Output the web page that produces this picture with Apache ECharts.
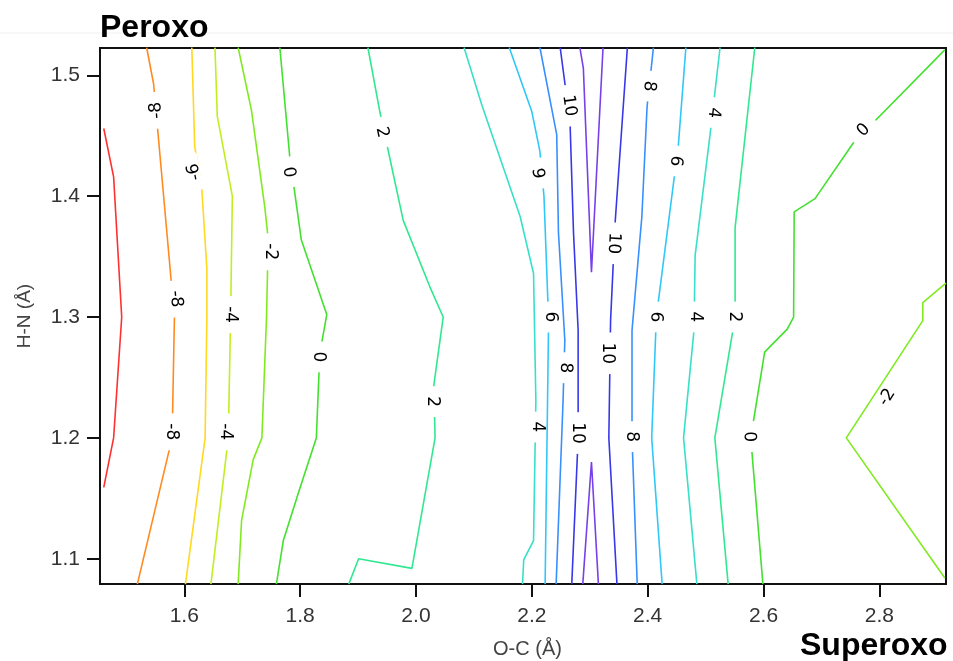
<!DOCTYPE html>
<html><head><meta charset="utf-8">
<script src="https://cdn.jsdelivr.net/npm/echarts@6/dist/echarts.min.js"></script>
<style>html,body{margin:0;padding:0;background:#fff}#c{width:953px;height:661px}</style>
</head><body><div id="c"></div>
<script>
// ---- axis ticks ----
const xTicks = [1.6, 1.8, 2.0, 2.2, 2.4, 2.6, 2.8];
const yTicks = [1.1, 1.2, 1.3, 1.4, 1.5];
const xRange = [1.4545, 2.9151];
const yRange = [1.0791, 1.5226];

// ---- contour polylines [O-C, H-N] ----
const cN10 = [[1.461,1.456],[1.478,1.416],[1.492,1.300],[1.478,1.200],[1.461,1.159]];
const cN8  = [[1.535,1.523],[1.547,1.493],[1.583,1.300],[1.579,1.200],[1.519,1.079]];
const cN6  = [[1.613,1.523],[1.618,1.441],[1.630,1.408],[1.639,1.340],[1.639,1.300],[1.636,1.200],[1.602,1.079]];
const cN4  = [[1.653,1.523],[1.657,1.466],[1.683,1.400],[1.680,1.300],[1.676,1.200],[1.646,1.079]];
const cN2a = [[1.693,1.523],[1.716,1.471],[1.739,1.391],[1.745,1.364],[1.742,1.300],[1.734,1.200],[1.719,1.182],[1.699,1.132],[1.693,1.079]];
const c0a  = [[1.765,1.523],[1.782,1.433],[1.802,1.364],[1.846,1.302],[1.834,1.270],[1.828,1.200],[1.800,1.159],[1.771,1.115],[1.759,1.079]];
const c2a  = [[1.917,1.523],[1.938,1.469],[1.978,1.380],[2.024,1.325],[2.047,1.300],[2.031,1.244],[2.033,1.200],[1.993,1.092],[1.901,1.100],[1.884,1.079]];
const c4a  = [[2.083,1.523],[2.114,1.475],[2.180,1.383],[2.203,1.336],[2.207,1.231],[2.203,1.115],[2.186,1.099],[2.184,1.079]];
const c6a  = [[2.161,1.523],[2.200,1.470],[2.214,1.437],[2.221,1.400],[2.229,1.297],[2.223,1.079]];
const c8a  = [[2.214,1.523],[2.243,1.451],[2.246,1.370],[2.257,1.281],[2.254,1.231],[2.242,1.079]];
const c10a = [[2.249,1.523],[2.266,1.461],[2.272,1.370],[2.280,1.289],[2.280,1.200],[2.269,1.079]];
const c12a = [[2.283,1.523],[2.289,1.506],[2.303,1.337],[2.323,1.523]];
const c12b = [[2.288,1.079],[2.303,1.180],[2.315,1.079]];
const c10b = [[2.365,1.523],[2.344,1.379],[2.336,1.297],[2.333,1.200],[2.347,1.079]];
const c8b  = [[2.410,1.523],[2.399,1.474],[2.390,1.383],[2.373,1.289],[2.373,1.200],[2.382,1.079]];
const c6b  = [[2.466,1.523],[2.453,1.442],[2.415,1.300],[2.407,1.200],[2.425,1.079]];
const c4b  = [[2.525,1.523],[2.508,1.452],[2.482,1.351],[2.480,1.289],[2.462,1.200],[2.485,1.079]];
const c2b  = [[2.585,1.523],[2.551,1.374],[2.551,1.300],[2.516,1.200],[2.539,1.079]];
const c0b  = [[2.913,1.521],[2.755,1.444],[2.689,1.398],[2.653,1.387],[2.652,1.300],[2.641,1.290],[2.602,1.271],[2.578,1.200],[2.599,1.079]];
const cN2b = [[2.915,1.328],[2.875,1.312],[2.875,1.297],[2.743,1.200],[2.913,1.084]];

const contourLines = [cN10, cN8, cN6, cN4, cN2a, c0a, c2a, c4a, c6a, c8a, c10a, c12a, c12b, c10b, c8b, c6b, c4b, c2b, c0b, cN2b];
const contourLevels = [-10, -8, -6, -4, -2, 0, 2, 4, 6, 8, 10, 12, 12, 10, 8, 6, 4, 2, 0, -2];

// ---- contour labels [O-C, H-N, text] ----
const labelPts = [
  [1.550,1.471,'-8'],[1.616,1.420,'-6'],[1.782,1.420,'0'],[1.751,1.354,'-2'],
  [1.587,1.315,'-8'],[1.682,1.302,'-4'],[1.834,1.267,'0'],[1.579,1.205,'-8'],
  [1.673,1.205,'-4'],[1.943,1.453,'2'],[2.030,1.230,'2'],[2.266,1.475,'10'],
  [2.214,1.419,'6'],[2.404,1.491,'8'],[2.516,1.469,'4'],[2.450,1.429,'6'],
  [2.343,1.361,'10'],[2.234,1.300,'6'],[2.416,1.300,'6'],[2.485,1.300,'4'],
  [2.551,1.300,'2'],[2.332,1.270,'10'],[2.260,1.258,'8'],[2.211,1.209,'4'],
  [2.280,1.204,'10'],[2.373,1.201,'8'],[2.577,1.201,'0'],[2.772,1.455,'0'],
  [2.812,1.234,'-2']
];
const labelRot = [95,101,-82,-90,-85,-90,-90,-90,-90,-78,-90,-82,95,-96,-97,-97,-93,-90,-93,-90,-90,-90,-92,-90,-90,-90,-88,45,57];

const levelColor = {
  '-10':'#ff3030','-8':'#ff8a20','-6':'#ffd820','-4':'#c0ee20','-2':'#80ea20',
  '0':'#44e030','2':'#30e890','4':'#38e0c8','6':'#30c8f8','8':'#3890ff','10':'#3838e8','12':'#7840e8'
};

const series = contourLines.map((pts, i) => ({
  type: 'line', data: pts, symbol: 'none', showSymbol: false, silent: true, clip: true,
  lineStyle: { color: levelColor[String(contourLevels[i])], width: 1.6 }, z: 2
}));

const LFS = 17;
series.push({
  type: 'custom', coordinateSystem: 'cartesian2d', silent: true, z: 5,
  encode: { x: 0, y: 1 },
  data: labelPts.map((p, i) => [p[0], p[1], i]),
  renderItem: function (params, api) {
    const i = api.value(2);
    const pt = api.coord([api.value(0), api.value(1)]);
    const txt = labelPts[i][2];
    let tw = 0;
    for (const ch of txt) tw += (ch === '-' ? 0.361 : 0.636) * LFS;
    const w = tw + 20, h = 13;
    return {
      type: 'group', x: pt[0], y: pt[1], rotation: labelRot[i] * Math.PI / 180,
      children: [
        { type: 'rect', shape: { x: -w / 2, y: -h / 2, width: w, height: h }, style: { fill: '#fff' } },
        { type: 'text', style: { text: txt, x: 0, y: 1, align: 'center', verticalAlign: 'middle',
          fontSize: LFS, fontFamily: 'DejaVu Sans', fill: '#000' } }
      ]
    };
  }
});

const chart = echarts.init(document.getElementById('c'), null, { renderer: 'canvas' });
chart.setOption({
  animation: false,
  backgroundColor: '#fff',
  title: [
    { text: 'Peroxo', left: 100, top: 12, padding: 0,
      textStyle: { fontSize: 32, fontWeight: 'bold', fontFamily: 'Liberation Sans', color: '#000' } },
    { text: 'Superoxo', left: 800, top: 630, padding: 0,
      textStyle: { fontSize: 32, fontWeight: 'bold', fontFamily: 'Liberation Sans', color: '#000' } }
  ],
  graphic: [
    { type: 'line', shape: { x1: 0, y1: 33, x2: 953, y2: 33 }, style: { stroke: '#f0f0f0', lineWidth: 1 }, silent: true }
  ],
  grid: { left: 100, right: 7, top: 48, bottom: 77, show: true, borderColor: '#111', borderWidth: 2,
          backgroundColor: 'transparent', containLabel: false, outerBoundsMode: 'none' },
  xAxis: {
    type: 'value', min: xRange[0], max: xRange[1],
    name: 'O-C (Å)', nameLocation: 'middle', nameGap: 55,
    nameTextStyle: { fontSize: 20, color: '#444', fontFamily: 'Liberation Sans', padding: [0, 0, 0, 9] },
    axisLine: { show: true, lineStyle: { color: '#111', width: 2 } },
    axisTick: { show: true, length: 13, lineStyle: { color: '#111', width: 2 }, customValues: xTicks },
    axisLabel: { customValues: xTicks, formatter: v => v.toFixed(1), fontSize: 21, color: '#333', fontFamily: 'Liberation Sans', margin: 22 },
    splitLine: { show: false }
  },
  yAxis: {
    type: 'value', min: yRange[0], max: yRange[1],
    name: 'H-N (Å)', nameLocation: 'middle', nameGap: 66,
    nameTextStyle: { fontSize: 19, color: '#444', fontFamily: 'Liberation Sans' },
    axisLine: { show: true, lineStyle: { color: '#111', width: 2 } },
    axisTick: { show: true, length: 13, lineStyle: { color: '#111', width: 2 }, customValues: yTicks },
    axisLabel: { customValues: yTicks, formatter: v => v.toFixed(1), fontSize: 21, color: '#333', fontFamily: 'Liberation Sans', margin: 20 },
    splitLine: { show: false }
  },
  series: series
});
</script>
</body></html>
